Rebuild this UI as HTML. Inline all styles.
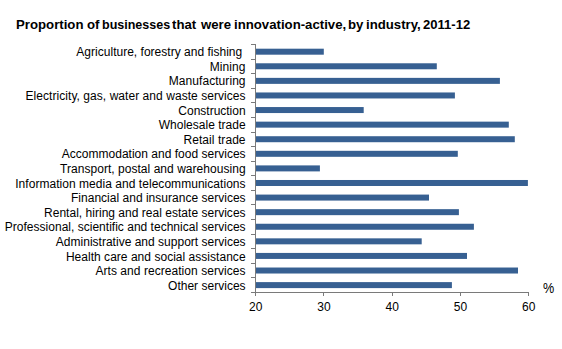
<!DOCTYPE html>
<html><head><meta charset="utf-8"><style>
html,body{margin:0;padding:0;background:#fff;}
body{width:562px;height:349px;position:relative;overflow:hidden;font-family:"Liberation Sans",sans-serif;color:#000;}
svg{position:absolute;left:0;top:0;}
.t{position:absolute;top:17.8px;transform-origin:0 0;font-weight:bold;font-size:12px;white-space:pre;line-height:14px;}
.lab{position:absolute;right:316.4px;font-size:12px;line-height:14px;white-space:pre;text-align:right;letter-spacing:0.045px;}
.xl{position:absolute;top:300px;width:40px;text-align:center;font-size:12px;line-height:14px;}
.pc{position:absolute;left:542.5px;top:280px;font-size:14px;line-height:16px;transform:scaleX(0.9);transform-origin:0 0;}
</style></head><body>
<svg width="562" height="349" viewBox="0 0 562 349">
<rect x="255.5" y="48.69" width="68.30" height="6.0" fill="#376092"/>
<rect x="255.5" y="63.28" width="181.30" height="6.0" fill="#376092"/>
<rect x="255.5" y="77.87" width="244.40" height="6.0" fill="#376092"/>
<rect x="255.5" y="92.46" width="199.40" height="6.0" fill="#376092"/>
<rect x="255.5" y="107.05" width="108.20" height="6.0" fill="#376092"/>
<rect x="255.5" y="121.64" width="253.30" height="6.0" fill="#376092"/>
<rect x="255.5" y="136.22" width="259.30" height="6.0" fill="#376092"/>
<rect x="255.5" y="150.81" width="202.30" height="6.0" fill="#376092"/>
<rect x="255.5" y="165.40" width="64.40" height="6.0" fill="#376092"/>
<rect x="255.5" y="179.99" width="272.40" height="6.0" fill="#376092"/>
<rect x="255.5" y="194.58" width="173.50" height="6.0" fill="#376092"/>
<rect x="255.5" y="209.16" width="203.40" height="6.0" fill="#376092"/>
<rect x="255.5" y="223.75" width="218.40" height="6.0" fill="#376092"/>
<rect x="255.5" y="238.34" width="166.20" height="6.0" fill="#376092"/>
<rect x="255.5" y="252.93" width="211.50" height="6.0" fill="#376092"/>
<rect x="255.5" y="267.52" width="262.50" height="6.0" fill="#376092"/>
<rect x="255.5" y="282.11" width="196.40" height="6.0" fill="#376092"/>
<rect x="251" y="44" width="4" height="1" fill="#7a7a7a"/>
<rect x="251" y="59" width="4" height="1" fill="#7a7a7a"/>
<rect x="251" y="73" width="4" height="1" fill="#7a7a7a"/>
<rect x="251" y="88" width="4" height="1" fill="#7a7a7a"/>
<rect x="251" y="102" width="4" height="1" fill="#7a7a7a"/>
<rect x="251" y="117" width="4" height="1" fill="#7a7a7a"/>
<rect x="251" y="132" width="4" height="1" fill="#7a7a7a"/>
<rect x="251" y="146" width="4" height="1" fill="#7a7a7a"/>
<rect x="251" y="161" width="4" height="1" fill="#7a7a7a"/>
<rect x="251" y="175" width="4" height="1" fill="#7a7a7a"/>
<rect x="251" y="190" width="4" height="1" fill="#7a7a7a"/>
<rect x="251" y="204" width="4" height="1" fill="#7a7a7a"/>
<rect x="251" y="219" width="4" height="1" fill="#7a7a7a"/>
<rect x="251" y="234" width="4" height="1" fill="#7a7a7a"/>
<rect x="251" y="248" width="4" height="1" fill="#7a7a7a"/>
<rect x="251" y="263" width="4" height="1" fill="#7a7a7a"/>
<rect x="251" y="277" width="4" height="1" fill="#7a7a7a"/>
<rect x="251" y="292" width="4" height="1" fill="#7a7a7a"/>
<rect x="255" y="292.0" width="1" height="4" fill="#7a7a7a"/>
<rect x="323" y="292.0" width="1" height="4" fill="#7a7a7a"/>
<rect x="392" y="292.0" width="1" height="4" fill="#7a7a7a"/>
<rect x="460" y="292.0" width="1" height="4" fill="#7a7a7a"/>
<rect x="528" y="292.0" width="1" height="4" fill="#7a7a7a"/>
<rect x="255.0" y="44.0" width="1" height="252.0" fill="#7a7a7a"/>
<rect x="251" y="292.0" width="278" height="1" fill="#7a7a7a"/>
</svg>
<div class="t" style="left:15.90px;transform:scaleX(1.1000)">Proportion</div>
<div class="t" style="left:87.35px;transform:scaleX(1.1000)">of</div>
<div class="t" style="left:101.66px;transform:scaleX(1.0429)">businesses</div>
<div class="t" style="left:172.05px;transform:scaleX(1.1000)">that</div>
<div class="t" style="left:200.50px;transform:scaleX(1.1000)">were</div>
<div class="t" style="left:233.80px;transform:scaleX(1.1000)">innovation-active,</div>
<div class="t" style="left:348.10px;transform:scaleX(1.1000)">by</div>
<div class="t" style="left:365.70px;transform:scaleX(1.1000)">industry,</div>
<div class="t" style="left:422.90px;transform:scaleX(1.0881)">2011-12</div>
<div class="lab" style="top:45.20px;letter-spacing:0.015px">Agriculture, forestry and fishing </div>
<div class="lab" style="top:59.80px;letter-spacing:0.105px">Mining</div>
<div class="lab" style="top:74.40px;letter-spacing:0.062px">Manufacturing</div>
<div class="lab" style="top:89.00px;letter-spacing:0.052px">Electricity, gas, water and waste services</div>
<div class="lab" style="top:103.60px;letter-spacing:-0.01px">Construction</div>
<div class="lab" style="top:118.20px;letter-spacing:0.016px">Wholesale trade</div>
<div class="lab" style="top:132.80px;letter-spacing:0.063px">Retail trade</div>
<div class="lab" style="top:147.40px;letter-spacing:0.012px">Accommodation and food services</div>
<div class="lab" style="top:162.00px;letter-spacing:0.036px">Transport, postal and warehousing</div>
<div class="lab" style="top:176.60px;letter-spacing:0.04px">Information media and telecommunications</div>
<div class="lab" style="top:191.20px;letter-spacing:0.016px">Financial and insurance services</div>
<div class="lab" style="top:205.80px;letter-spacing:0.021px">Rental, hiring and real estate services</div>
<div class="lab" style="top:220.40px;letter-spacing:0.015px">Professional, scientific and technical services</div>
<div class="lab" style="top:235.00px;letter-spacing:0.01px">Administrative and support services</div>
<div class="lab" style="top:249.60px;letter-spacing:0.029px">Health care and social assistance</div>
<div class="lab" style="top:264.20px;letter-spacing:0.052px">Arts and recreation services</div>
<div class="lab" style="top:278.80px;letter-spacing:0.014px">Other services</div>
<div class="xl" style="left:235.70px">20</div>
<div class="xl" style="left:303.95px">30</div>
<div class="xl" style="left:372.20px">40</div>
<div class="xl" style="left:440.45px">50</div>
<div class="xl" style="left:508.70px">60</div>
<div class="pc">%</div>
</body></html>
